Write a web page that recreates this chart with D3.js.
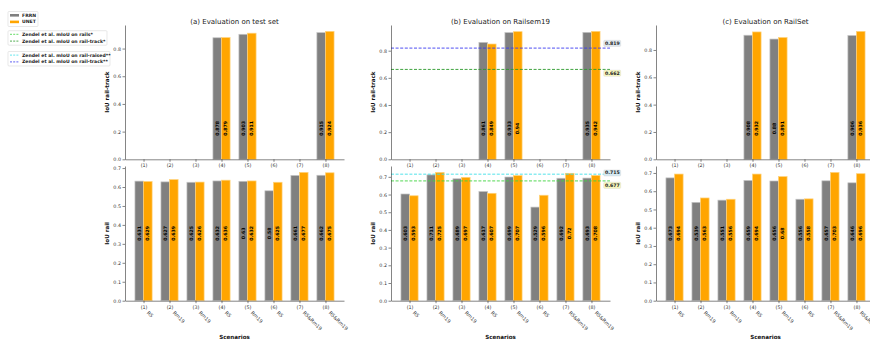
<!DOCTYPE html>
<html><head><meta charset="utf-8">
<script src="https://cdn.jsdelivr.net/npm/d3@7"></script>
<style>body{margin:0;background:#fff}svg{display:block;font-family:"DejaVu Sans",sans-serif}</style>
</head><body><svg id="c" width="870" height="339"></svg>
<script>
// ---------- data ----------
const categories = ["(1)","(2)","(3)","(4)","(5)","(6)","(7)","(8)"];
const scenarios = ["RS","Rm19","Rm19","RS","Rm19","RS","RS&Rm19","RS&Rm19"];
const modelNames = ["FRRN","UNET"];
const panelTitles = ["(a) Evaluation on test set","(b) Evaluation on Railsem19","(c) Evaluation on RailSet"];

const testTrackFRRN = [null,null,null,0.878,0.903,null,null,0.915];
const testTrackUNET = [null,null,null,0.879,0.911,null,null,0.924];
const testRailFRRN  = [0.631,0.627,0.625,0.632,0.63,0.58,0.661,0.662];
const testRailUNET  = [0.629,0.639,0.626,0.636,0.632,0.625,0.677,0.675];

const rs19TrackFRRN = [null,null,null,0.861,0.933,null,null,0.935];
const rs19TrackUNET = [null,null,null,0.849,0.94,null,null,0.942];
const rs19RailFRRN  = [0.603,0.711,0.689,0.617,0.699,0.529,0.692,0.693];
const rs19RailUNET  = [0.593,0.725,0.697,0.607,0.707,0.596,0.72,0.708];

const railsetTrackFRRN = [null,null,null,0.908,0.88,null,null,0.906];
const railsetTrackUNET = [null,null,null,0.932,0.891,null,null,0.936];
const railsetRailFRRN  = [0.673,0.539,0.551,0.659,0.656,0.556,0.657,0.646];
const railsetRailUNET  = [0.694,0.563,0.556,0.694,0.68,0.558,0.703,0.696];

// Zendel et al. reference values (Railsem19 panel)
const refTrackValues = [0.819, 0.662];   // rail-track**, rail-track*
const refRailValues  = [0.715, 0.677];   // rail-raised**, rails*
const legendRefLabels = [
  ["Zendel et al. mIoU on rails*","Zendel et al. mIoU on rail-track*"],
  ["Zendel et al. mIoU on rail-raised**","Zendel et al. mIoU on rail-track**"]
];
const trackTicks = [0,0.2,0.4,0.6,0.8];
const railTicks  = [0,0.1,0.2,0.3,0.4,0.5,0.6,0.7];

// ---------- styles / layout ----------
const barColors = ["#808080","#FFA500"];
const barEdges  = ["#c4c4c4","#ffd27a"];
const refTrackColors = ["#3a3af0","#2a9a2a"];
const refRailColors  = ["#40e0e8","#3fd23f"];
const refTrackBoxes  = ["#dfe8ee","#f7f7c0"];
const refRailBoxes   = ["#d6eaf2","#f7f7c0"];
const refTrackDy = [-4.7, 3.8];
const refRailDy  = [-1.2, 4.4];
const lefts = [125, 391, 656];
const W = 219;
const rows = [{y0:25, y1:159.3, lab:"IoU rail-track", ticks:trackTicks, frac:0.23},
              {y0:166, y1:300.7, lab:"IoU rail", ticks:railTicks, frac:0.5}];
const bw = 0.33;

const svg = d3.select("#c");
const panels = [
  {track:[testTrackFRRN,testTrackUNET], rail:[testRailFRRN,testRailUNET]},
  {track:[rs19TrackFRRN,rs19TrackUNET], rail:[rs19RailFRRN,rs19RailUNET], refs:true},
  {track:[railsetTrackFRRN,railsetTrackUNET], rail:[railsetRailFRRN,railsetRailUNET]}
];

panels.forEach((p, pi) => {
  const left = lefts[pi];
  const pad = 0.05*(7+2*bw);
  const x = d3.scaleLinear().domain([-bw-pad, 7+bw+pad]).range([left, left+W]);
  const cx = (left + left + W)/2;
  svg.append("text").attr("x", cx).attr("y", 23.5).attr("text-anchor","middle")
    .attr("font-size", 7).attr("fill","#222").text(panelTitles[pi]);

  rows.forEach((r, ri) => {
    const series = ri === 0 ? p.track : p.rail;
    const ymax = d3.max(series.flat().filter(v => v != null)) * 1.05;
    const y = d3.scaleLinear().domain([0, ymax]).range([r.y1, r.y0]);
    const g = svg.append("g");

    series.forEach((vals, si) => {
      vals.forEach((v, i) => {
        if (v == null) return;
        const xs = si === 0 ? x(i - bw) : x(i);
        const bwpx = x(bw) - x(0);
        g.append("rect").attr("x", xs).attr("y", y(v)).attr("width", bwpx)
          .attr("height", y(0) - y(v)).attr("fill", barColors[si])
          .attr("stroke", barEdges[si]).attr("stroke-width", 0.7);
        const ty = r.y1 - r.frac * (r.y1 - r.y0);
        g.append("text").attr("transform", `translate(${xs + bwpx/2},${ty}) rotate(-90)`)
          .attr("text-anchor","middle").attr("dominant-baseline","central")
          .attr("font-size", 4.7).attr("font-weight","bold").attr("fill","#000")
          .text(String(v));
      });
    });

    if (p.refs) {
      const vals = ri === 0 ? refTrackValues : refRailValues;
      const cols = ri === 0 ? refTrackColors : refRailColors;
      const boxes = ri === 0 ? refTrackBoxes : refRailBoxes;
      const dys = ri === 0 ? refTrackDy : refRailDy;
      vals.forEach((v, k) => {
        g.append("line").attr("x1", left).attr("x2", left + W)
          .attr("y1", y(v)).attr("y2", y(v)).attr("stroke", cols[k])
          .attr("stroke-width", 0.9).attr("stroke-dasharray","3,1.6");
        const tx = left + W - 5, ty = y(v) + dys[k];
        g.append("rect").attr("x", tx - 1.3).attr("y", ty - 3.1).attr("width", 17)
          .attr("height", 6.2).attr("rx", 1).attr("fill", boxes[k]).attr("stroke","#c8c8c8").attr("stroke-width",0.3);
        g.append("text").attr("x", tx).attr("y", ty).attr("dominant-baseline","central")
          .attr("font-size", 4.7).attr("font-weight","bold").attr("fill","#222").text(String(v));
      });
    }

    const ya = svg.append("g").attr("transform", `translate(${left},0)`)
      .call(d3.axisLeft(y).tickValues(r.ticks).tickFormat(d3.format(".1f")).tickSize(2.5).tickSizeOuter(0));
    const xa = svg.append("g").attr("transform", `translate(0,${r.y1})`)
      .call(d3.axisBottom(x).tickValues(d3.range(8)).tickFormat(i => categories[i]).tickSize(2.5).tickSizeOuter(0));
    [ya, xa].forEach(a => {
      a.selectAll("text").attr("font-size", 4.8).attr("fill","#333").attr("font-family","DejaVu Sans");
      a.selectAll("path,line").attr("stroke","#333").attr("stroke-width",0.6);
    });
    ya.selectAll("text").attr("x", -4);
    xa.selectAll("text").attr("y", 4.5);

    svg.append("text").attr("transform", `translate(${left - 16.5},${(r.y0 + r.y1)/2}) rotate(-90)`)
      .attr("text-anchor","middle").attr("font-size", 5.6).attr("font-weight","bold")
      .attr("fill","#111").text(r.lab);

    if (ri === 1) {
      scenarios.forEach((s, i) => {
        svg.append("text").attr("transform", `translate(${x(i) + 3},${r.y1 + 12.5}) rotate(45)`)
          .attr("font-size", 4.9).attr("fill","#333").text(s);
      });
      svg.append("text").attr("x", cx).attr("y", 338.8).attr("text-anchor","middle")
        .attr("font-size", 5.6).attr("font-weight","bold").attr("fill","#111").text("Scenarios");
    }
  });
});

// ---------- legends ----------
const lg = svg.append("g").attr("font-size", 4.6).attr("font-weight","bold").attr("fill","#222");
function legendBox(x0, y0, w, h) {
  lg.append("rect").attr("x", x0).attr("y", y0).attr("width", w).attr("height", h)
    .attr("rx", 1).attr("fill","#fff").attr("stroke","#d8d8d8").attr("stroke-width",0.6);
}
legendBox(8, 11.5, 30, 15);
modelNames.forEach((m, i) => {
  const yy = 15.2 + i * 6.6;
  lg.append("rect").attr("x", 10).attr("y", yy - 1.2).attr("width", 9).attr("height", 2.6).attr("fill", barColors[i]);
  lg.append("text").attr("x", 22).attr("y", yy).attr("dominant-baseline","central").text(m);
});
const legCols = [[refRailColors[1], refTrackColors[1]],[refRailColors[0], refTrackColors[0]]];
const legY = [30.7, 51.5];
const legW = [99, 102];
legendRefLabels.forEach((grp, gi) => {
  legendBox(8, legY[gi], legW[gi], 14.5);
  grp.forEach((t, k) => {
    const yy = legY[gi] + 3.6 + k * 6.8;
    lg.append("line").attr("x1", 10).attr("x2", 19).attr("y1", yy).attr("y2", yy)
      .attr("stroke", legCols[gi][k]).attr("stroke-width", 0.8).attr("stroke-dasharray","2,1.2");
    lg.append("text").attr("x", 22).attr("y", yy).attr("dominant-baseline","central").text(t);
  });
});
</script></body></html>
